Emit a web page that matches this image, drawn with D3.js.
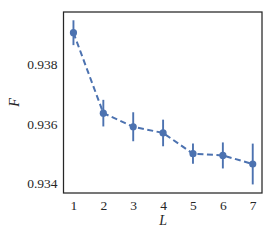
<!DOCTYPE html>
<html>
<head>
<meta charset="utf-8">
<script src="https://cdn.jsdelivr.net/npm/d3@7"></script>
<style>
  body { margin: 0; background: #fff; }
  svg { display: block; }
  svg text { font-family: "Liberation Serif", "DejaVu Serif", serif; }
</style>
</head>
<body>
<div id="chart"></div>
<script>
// data
const layers = [1, 2, 3, 4, 5, 6, 7];
const fValues = [0.93908, 0.93636, 0.93590, 0.93569, 0.93499, 0.93493, 0.93464];
const fErrors = [0.00042, 0.00045, 0.00049, 0.00045, 0.00034, 0.00044, 0.00069];
const yTicks = [0.934, 0.936, 0.938];

const W = 274, H = 240;
const margin = { t: 12, r: 12, b: 47, l: 63.5 };
const blue = "#4c72b0";

const svg = d3.select("#chart")
  .append("svg")
  .attr("width", W)
  .attr("height", H)
  .attr("viewBox", [0, 0, W, H]);

const x = d3.scaleLinear()
  .domain([0.667, 7.31])
  .range([margin.l, W - margin.r]);

const y = d3.scaleLinear()
  .domain([0.93366, 0.93978])
  .range([H - margin.b, margin.t]);

// tick labels (no tick marks)
const ax = d3.axisBottom(x).tickValues(layers).tickSize(0).tickPadding(7).tickFormat(d3.format("d"));
const ay = d3.axisLeft(y).tickValues(yTicks).tickSize(0).tickPadding(6).tickFormat(d3.format(".3f"));

const styleTicks = g => g
  .attr("font-family", null)
  .attr("font-size", 13.5)
  .call(g => g.select(".domain").remove())
  .call(g => g.selectAll("text").attr("fill", "#262626"));

svg.append("g")
  .attr("transform", `translate(0,${H - margin.b})`)
  .call(ax)
  .call(styleTicks);

svg.append("g")
  .attr("transform", `translate(${margin.l},0)`)
  .call(ay)
  .call(styleTicks);

// axis labels
svg.append("text")
  .attr("x", (margin.l + W - margin.r) / 2 + 0.5)
  .attr("y", 225)
  .attr("text-anchor", "middle")
  .attr("font-size", 14)
  .attr("font-style", "italic")
  .attr("fill", "#262626")
  .text("L");

svg.append("text")
  .attr("transform", `translate(19,${(margin.t + H - margin.b) / 2}) rotate(-90)`)
  .attr("text-anchor", "middle")
  .attr("font-size", 14)
  .attr("font-style", "italic")
  .attr("fill", "#262626")
  .text("F");

const pts = layers.map((l, i) => ({ l, v: fValues[i], e: fErrors[i] }));

// dashed connecting line
const line = d3.line().x(d => x(d.l)).y(d => y(d.v));
svg.append("path")
  .attr("d", line(pts))
  .attr("fill", "none")
  .attr("stroke", blue)
  .attr("stroke-width", 2)
  .attr("stroke-dasharray", "6,3.5");

// error bars
svg.append("g")
  .selectAll("line")
  .data(pts)
  .join("line")
  .attr("x1", d => x(d.l))
  .attr("x2", d => x(d.l))
  .attr("y1", d => y(d.v - d.e))
  .attr("y2", d => y(d.v + d.e))
  .attr("stroke", blue)
  .attr("stroke-width", 1.9);

// markers
svg.append("g")
  .selectAll("circle")
  .data(pts)
  .join("circle")
  .attr("cx", d => x(d.l))
  .attr("cy", d => y(d.v))
  .attr("r", 3.6)
  .attr("fill", blue);

// frame
svg.append("rect")
  .attr("x", margin.l)
  .attr("y", margin.t)
  .attr("width", W - margin.r - margin.l)
  .attr("height", H - margin.b - margin.t)
  .attr("fill", "none")
  .attr("stroke", "#262626")
  .attr("stroke-width", 1.25);
</script>
</body>
</html>
